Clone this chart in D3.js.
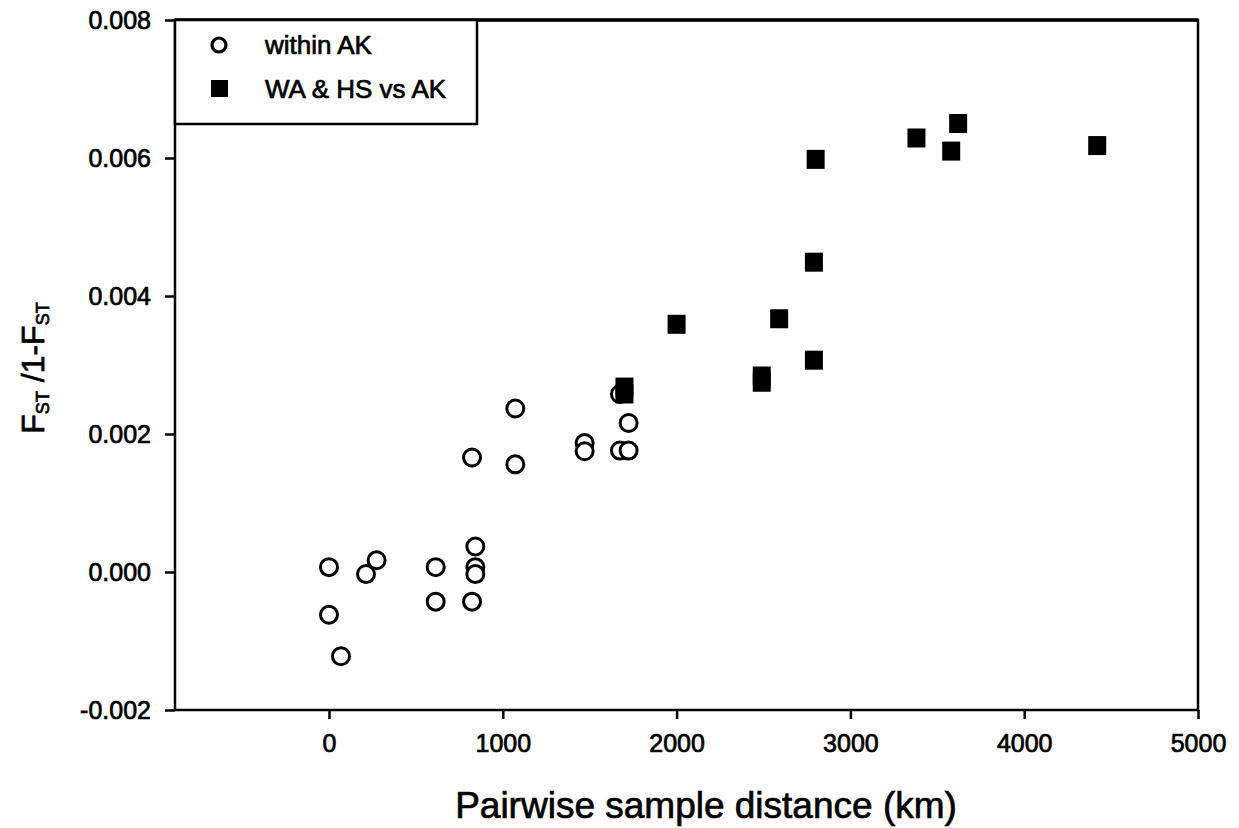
<!DOCTYPE html>
<meta charset="utf-8">
<style>
    body { margin: 0; background: #fff; }
    text { font-family: "Liberation Sans", Arial, sans-serif; fill: #000; stroke: #000; stroke-width: 0.7px; }
    .axis text { font-size: 25px; }
    .axis path { display: none; }
    .axis line { stroke: #000; stroke-width: 2.5px; }
</style>
<svg width="1239" height="828"></svg>
<script src="https://d3js.org/d3.v7.min.js"></script>
<script>

    // within AK pairs
    var withinX = [0, 274, 213, 0, 69, 614, 614, 823, 842, 842, 842, 823, 1072, 1072, 1471, 1471, 1674, 1724, 1724, 1674];
    var withinY = [0.00007, 0.00017, -0.00003, -0.00062, -0.00122, 0.00007, -0.00043, -0.00043, 0.00037, 0.00007, -0.00003,
                   0.00166, 0.00237, 0.00156, 0.00187, 0.00175, 0.00176, 0.00176, 0.00216, 0.00258];

    // WA & HS vs AK pairs
    var betweenX = [1700, 1700, 2000, 2490, 2490, 2590, 2790, 2790, 2800, 3380, 3580, 3620, 4420];
    var betweenY = [0.00268, 0.00258, 0.00359, 0.00284, 0.00275, 0.00367, 0.00307, 0.00449, 0.00598, 0.00629, 0.00610, 0.00650, 0.00618];

    var xTicks = [0, 1000, 2000, 3000, 4000, 5000];
    var yTicks = [-0.002, 0.000, 0.002, 0.004, 0.006, 0.008];
    var legendLabels = ["within AK", "WA & HS vs AK"];

    var svg = d3.select("svg"),
        margin = {top: 20, right: 41, bottom: 118, left: 175},
        width = +svg.attr("width") - margin.left - margin.right,
        height = +svg.attr("height") - margin.top - margin.bottom;

    var x = d3.scaleLinear().domain([-886, 5000]).range([0, width]),
        y = d3.scaleLinear().domain([-0.002, 0.008]).range([height, 0]);

    var fmtY = function(d) { return d3.format(".3f")(d).replace("\u2212", "-"); };

    var g = svg.append("g")
        .attr("transform", "translate(" + margin.left + "," + margin.top + ")");

    g.append("g")
        .attr("class", "axis axis--x")
        .attr("transform", "translate(0," + height + ")")
        .call(d3.axisBottom(x).tickValues(xTicks).tickSize(9).tickPadding(15).tickFormat(d3.format("d")));

    g.append("g")
        .attr("class", "axis axis--y")
        .call(d3.axisLeft(y).tickValues(yTicks).tickSize(10).tickPadding(14).tickFormat(fmtY));

    // frame
    g.append("rect")
        .attr("width", width)
        .attr("height", height)
        .attr("fill", "none")
        .attr("stroke", "#000")
        .attr("stroke-width", 2.5);

    g.append("line")
        .attr("x1", 0).attr("x2", width)
        .attr("y1", 0).attr("y2", 0)
        .attr("stroke", "#000")
        .attr("stroke-width", 3.5);

    var within = withinX.map(function(d, i) { return [d, withinY[i]]; });
    var between = betweenX.map(function(d, i) { return [d, betweenY[i]]; });

    g.selectAll(".within")
        .data(within)
        .enter().append("circle")
        .attr("class", "within")
        .attr("cx", function(d) { return x(d[0]); })
        .attr("cy", function(d) { return y(d[1]); })
        .attr("r", 8.5)
        .attr("fill", "#fff")
        .attr("stroke", "#000")
        .attr("stroke-width", 3);

    g.selectAll(".between")
        .data(between)
        .enter().append("rect")
        .attr("class", "between")
        .attr("x", function(d) { return x(d[0]) - 9; })
        .attr("y", function(d) { return y(d[1]) - 9.5; })
        .attr("width", 18)
        .attr("height", 19)
        .attr("fill", "#000");

    // legend
    var legend = g.append("g");

    legend.append("rect")
        .attr("width", 302)
        .attr("height", 104)
        .attr("fill", "#fff")
        .attr("stroke", "#000")
        .attr("stroke-width", 2.5);

    legend.append("circle")
        .attr("cx", 44).attr("cy", 25)
        .attr("r", 7)
        .attr("fill", "#fff")
        .attr("stroke", "#000")
        .attr("stroke-width", 3.2);

    legend.append("rect")
        .attr("x", 36).attr("y", 60)
        .attr("width", 17).attr("height", 17)
        .attr("fill", "#000");

    legend.selectAll(".lbl")
        .data(legendLabels)
        .enter().append("text")
        .attr("class", "lbl")
        .attr("x", 90)
        .attr("y", function(d, i) { return 25 + i * 44; })
        .attr("dy", "0.35em")
        .style("font-size", "26px")
        .text(function(d) { return d; });

    // axis titles
    svg.append("text")
        .attr("x", 706)
        .attr("y", 818)
        .attr("text-anchor", "middle")
        .style("font-size", "37px")
        .text("Pairwise sample distance (km)");

    var yt = svg.append("text")
        .attr("transform", "translate(44,368) rotate(-90)")
        .attr("text-anchor", "middle")
        .style("font-size", "32px");
    yt.append("tspan").text("F");
    yt.append("tspan").attr("dy", "0.25em").style("font-size", "18px").text("ST");
    yt.append("tspan").attr("dy", "-0.14em").text(" /1-F");
    yt.append("tspan").attr("dy", "0.25em").style("font-size", "18px").text("ST");

</script>
